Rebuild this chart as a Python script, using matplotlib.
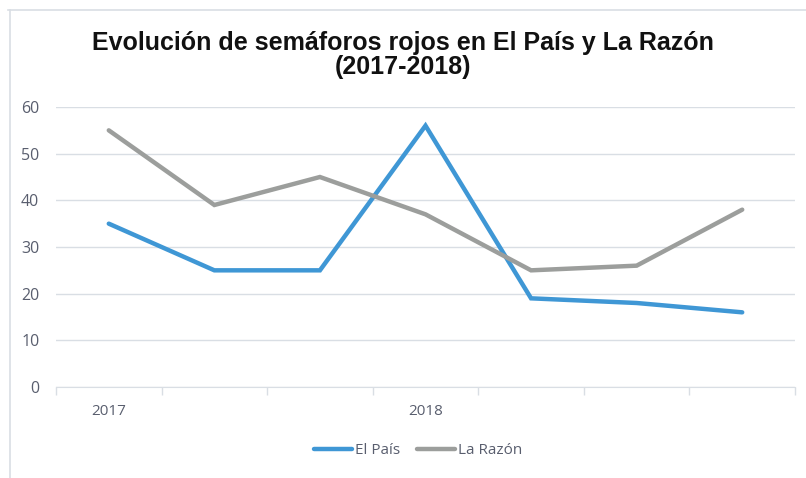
import matplotlib
matplotlib.use('Agg')
import matplotlib.pyplot as plt
from matplotlib.lines import Line2D

categories = ['2017', '', '', '2018', '', '', '']
el_pais = [35, 25, 25, 56, 19, 18, 16]
la_razon = [55, 39, 45, 37, 25, 26, 38]
yticks = [0, 10, 20, 30, 40, 50, 60]

blue = '#3F97D5'
grey = '#9C9E9C'
grid_c = '#D9DEE4'
txt_c = '#595E6E'

fig = plt.figure(figsize=(8.06, 4.78), dpi=100)
ax = fig.add_axes([56/806, 1 - 387/478, (795-56)/806, (387-107)/478])

x = list(range(len(categories)))
ax.plot(x, el_pais, color=blue, lw=3.2, solid_capstyle='round', solid_joinstyle='miter', label='El País')
ax.plot(x, la_razon, color=grey, lw=3.2, solid_capstyle='round', solid_joinstyle='miter', label='La Razón')

ax.set_xlim(-0.5, len(categories) - 0.5)
ax.set_ylim(0, 60)
ax.set_yticks(yticks)
ax.set_xticks(x)
ax.set_xticklabels(categories)
ax.set_xticks([i - 0.5 for i in range(len(categories) + 1)], minor=True)
ax.tick_params(axis='x', which='major', length=0, pad=12, labelsize=11, labelcolor=txt_c)
ax.tick_params(axis='x', which='minor', length=6, color=grid_c, width=1)
ax.tick_params(axis='y', length=0, pad=12, labelsize=11.5, labelcolor=txt_c)
for lab in ax.get_xticklabels() + ax.get_yticklabels():
    lab.set_family(['Open Sans', 'DejaVu Sans'])

ax.grid(axis='y', color=grid_c, lw=1)
ax.set_axisbelow(True)
for s in ['top', 'right', 'left']:
    ax.spines[s].set_visible(False)
ax.spines['bottom'].set_color(grid_c)

fig.text(0.5, 1 - 55/478, 'Evolución de semáforos rojos en El País y La Razón\n(2017-2018)',
         ha='center', va='center', fontsize=18, fontweight='bold', linespacing=1.05,
         family=['Liberation Sans', 'DejaVu Sans'], color='#111111')

leg = fig.legend(handles=[Line2D([], [], color=blue, lw=3.2, solid_capstyle='round'),
                          Line2D([], [], color=grey, lw=3.2, solid_capstyle='round')],
                 labels=['El País', 'La Razón'], loc='center', bbox_to_anchor=(418/806, 1 - 451/478),
                 ncol=2, frameon=False, handlelength=2.5, handletextpad=0.2, columnspacing=1.1,
                 prop={'family': ['Open Sans', 'DejaVu Sans'], 'size': 11})
for t in leg.get_texts():
    t.set_color(txt_c)

fig.add_artist(Line2D([10/806, 10/806], [0, 1 - 10/478], color=grid_c, lw=1.2, transform=fig.transFigure))
fig.add_artist(Line2D([8/806, 1], [1 - 10/478, 1 - 10/478], color=grid_c, lw=1.2, transform=fig.transFigure))

fig.savefig('out.png', dpi=100)
